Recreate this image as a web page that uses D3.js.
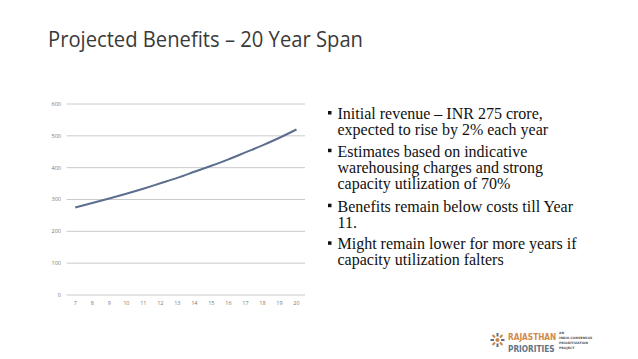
<!DOCTYPE html>
<html><head><meta charset="utf-8">
<script src="https://cdn.jsdelivr.net/npm/d3@7"></script>
<style>html,body{margin:0;padding:0;background:#fff;}svg{display:block;}</style>
</head><body>
<svg id="c" width="638" height="359"></svg>
<script>
const years = [7,8,9,10,11,12,13,14,15,16,17,18,19,20];
const benefits = [275,289,303,318,334,351,368,387,406,426,448,470,494,520];
const yTicks = [0,100,200,300,400,500,600];
const title = "Projected Benefits – 20 Year Span";
const bullets = [
  ["Initial revenue – INR 275 crore,", "expected to rise by 2% each year"],
  ["Estimates based on indicative", "warehousing charges and strong", "capacity utilization of 70%"],
  ["Benefits remain below costs till Year", "11."],
  ["Might remain lower for more years if", "capacity utilization falters"]
];

const svg = d3.select("#c");
svg.append("text").attr("x",48).attr("y",47)
  .attr("font-family","Open Sans, sans-serif").attr("font-size",21)
  .attr("fill","#3a3a3a").attr("textLength",315).attr("lengthAdjust","spacingAndGlyphs")
  .text(title);

const x = d3.scaleBand().domain(years).range([66.7,305]);
const y = d3.scaleLinear().domain([0,600]).range([295,104]);
const g = svg.append("g");
g.selectAll("line.grid").data(yTicks).join("line").attr("class","grid")
  .attr("x1",66.7).attr("x2",305).attr("y1",d=>y(d)).attr("y2",d=>y(d))
  .attr("stroke","#cacaca").attr("stroke-width",1);
g.selectAll("text.yl").data(yTicks).join("text").attr("class","yl")
  .attr("x",61).attr("y",d=>y(d)).attr("dy","0.35em").attr("text-anchor","end")
  .attr("font-family","Open Sans, sans-serif").attr("font-size",5.5).attr("fill","#777")
  .text(d=>d);
g.selectAll("text.xl").data(years).join("text").attr("class","xl")
  .attr("x",d=>x(d)+x.bandwidth()/2).attr("y",303.5).attr("dy","0.35em").attr("text-anchor","middle")
  .attr("font-family","Open Sans, sans-serif").attr("font-size",5.5).attr("fill","#777")
  .text(d=>d);
const line = d3.line().x((d,i)=>x(years[i])+x.bandwidth()/2).y(d=>y(d)).curve(d3.curveMonotoneX);
g.append("path").datum(benefits).attr("d",line).attr("fill","none")
  .attr("stroke","#5b6e8e").attr("stroke-width",2);

// bullets
const bg = svg.append("g").attr("font-family","Liberation Serif, Times New Roman, serif").attr("font-size",16).attr("fill","#111");
const starts = [119,156.7,211.7,249.3];
bullets.forEach((b,i)=>{
  bg.append("rect").attr("x",328).attr("y",starts[i]-8).attr("width",3.5).attr("height",3.5).attr("fill","#111");
  b.forEach((t,j)=>{
    bg.append("text").attr("x",337.5).attr("y",starts[i]+j*16).text(t);
  });
});

// logo
const lg = svg.append("g");
const cx=497.5, cy=340;
for(let k=0;k<8;k++){
  const a=k*Math.PI/4;
  lg.append("line").attr("x1",cx+Math.cos(a)*3.5).attr("y1",cy+Math.sin(a)*3.5)
    .attr("x2",cx+Math.cos(a)*7).attr("y2",cy+Math.sin(a)*7)
    .attr("stroke",k%2?"#c9874a":"#5f6f80").attr("stroke-width",2);
}
lg.append("circle").attr("cx",cx).attr("cy",cy).attr("r",2).attr("fill","#c9874a");
lg.append("text").attr("transform","translate(508,340) scale(1,1.1)").attr("font-family","DejaVu Sans Condensed, sans-serif")
  .attr("font-weight","bold").attr("font-size",8.2).attr("fill","#d08a4c").text("RAJASTHAN");
lg.append("text").attr("transform","translate(508,351.5) scale(1,1.1)").attr("font-family","DejaVu Sans Condensed, sans-serif")
  .attr("font-weight","bold").attr("font-size",8.2).attr("fill","#5f7285").text("PRIORITIES");
["AN","INDIA CONSENSUS","PRIORITIZATION","PROJECT"].forEach((t,i)=>{
  lg.append("text").attr("x",559).attr("y",334+i*5).attr("font-family","DejaVu Sans, sans-serif")
    .attr("font-weight","bold").attr("font-size",3.2).attr("fill","#555").text(t);
});
</script>
</body></html>
